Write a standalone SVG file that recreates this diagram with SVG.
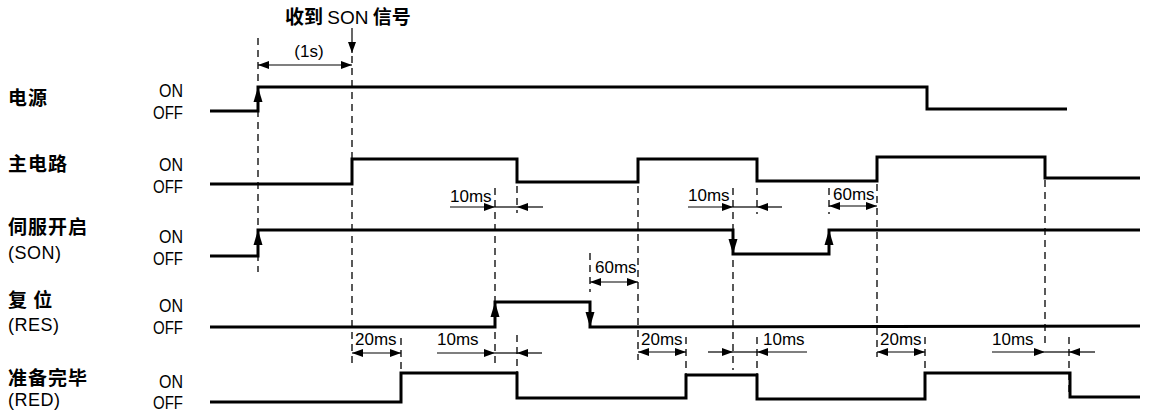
<svg xmlns="http://www.w3.org/2000/svg" width="1150" height="414" viewBox="0 0 1150 414">
<defs>
<marker id="ah" viewBox="0 0 11 8" refX="11" refY="4" markerWidth="11" markerHeight="8" markerUnits="userSpaceOnUse" orient="auto-start-reverse"><path d="M0,0 L11,4 L0,8 Z" fill="#000"/></marker>
<path id="up" d="M0,0 L-4.5,15 L4.5,15 Z" fill="#000"/>
<path id="dn" d="M0,0 L-4.5,-15 L4.5,-15 Z" fill="#000"/>
</defs>
<style>
.sig{fill:none;stroke:#000;stroke-width:3;stroke-linejoin:miter}
.dash{stroke:#000;stroke-width:1.3;stroke-dasharray:7 5;fill:none}
.dim{stroke:#000;stroke-width:1.2;fill:none}
.lbl{font-family:"Noto Sans CJK SC","Noto Sans",sans-serif;font-size:19px;font-weight:bold;letter-spacing:1px}
.en{font-family:"Liberation Sans",Arial,sans-serif;font-size:18px;letter-spacing:0.5px}
.st{font-family:"Liberation Sans",Arial,sans-serif;font-size:18px;text-anchor:end}
.ms{font-family:"Liberation Sans",Arial,sans-serif;font-size:17px}
.top{font-family:"Noto Sans CJK SC",sans-serif;font-size:19px;font-weight:bold}
</style>
<rect width="1150" height="414" fill="#fff"/>

<g id="title">
<text x="285" y="24" class="top">收到 <tspan font-family="Liberation Sans, sans-serif" font-weight="normal">SON</tspan> 信号</text>
<line x1="352" y1="28" x2="352" y2="53" class="dim" marker-end="url(#ah)"/>
</g>

<g id="row-power">
<text x="8" y="105" class="lbl">电源</text>
<text x="183" y="97" class="st" textLength="24" lengthAdjust="spacingAndGlyphs">ON</text>
<text x="183" y="119" class="st" textLength="30" lengthAdjust="spacingAndGlyphs">OFF</text>
<polyline class="sig" points="210,111 258,111 258,87 927,87 927,109 1067,109"/>
<use href="#up" x="258" y="87"/>
</g>

<g id="row-main">
<text x="8" y="171" class="lbl">主电路</text>
<text x="183" y="171" class="st" textLength="24" lengthAdjust="spacingAndGlyphs">ON</text>
<text x="183" y="193" class="st" textLength="30" lengthAdjust="spacingAndGlyphs">OFF</text>
<polyline class="sig" points="210,184 352,184 352,159 517,159 517,182 638,182 638,159 757,159 757,181 877,181 877,157 1045,157 1045,178 1140,178"/>
</g>

<g id="row-son">
<text x="8" y="234" class="lbl">伺服开启</text>
<text x="8" y="259" class="en">(SON)</text>
<text x="183" y="243" class="st" textLength="24" lengthAdjust="spacingAndGlyphs">ON</text>
<text x="183" y="265" class="st" textLength="30" lengthAdjust="spacingAndGlyphs">OFF</text>
<polyline class="sig" points="210,256 258,256 258,230 733,230 733,254 829,254 829,230 1140,230"/>
<use href="#up" x="258" y="230"/>
<use href="#dn" x="733" y="254"/>
<use href="#up" x="829" y="230"/>
</g>

<g id="row-res">
<text x="8" y="307" class="lbl" xml:space="preserve">复 位</text>
<text x="8" y="331" class="en">(RES)</text>
<text x="183" y="312" class="st" textLength="24" lengthAdjust="spacingAndGlyphs">ON</text>
<text x="183" y="334" class="st" textLength="30" lengthAdjust="spacingAndGlyphs">OFF</text>
<polyline class="sig" points="210,327 495,327 495,302 590,302 590,327 1140,326"/>
<use href="#up" x="495" y="302"/>
<use href="#dn" x="590" y="327"/>
</g>

<g id="row-red">
<text x="8" y="385" class="lbl">准备完毕</text>
<text x="8" y="406" class="en">(RED)</text>
<text x="183" y="388" class="st" textLength="24" lengthAdjust="spacingAndGlyphs">ON</text>
<text x="183" y="409" class="st" textLength="30" lengthAdjust="spacingAndGlyphs">OFF</text>
<polyline class="sig" points="210,402 401,402 401,373 517,373 517,398 686,398 686,375 757,375 757,399 925,399 925,373 1070,373 1070,397 1140,397"/>
</g>

<g id="connectors">
<line class="dash" x1="258" y1="38" x2="258" y2="272"/>
<line class="dash" x1="352" y1="56" x2="352" y2="363"/>
<line class="dash" x1="401" y1="338" x2="401" y2="373"/>
<line class="dash" x1="495" y1="188" x2="495" y2="363"/>
<line class="dash" x1="517" y1="186" x2="517" y2="213"/>
<line class="dash" x1="517" y1="335" x2="517" y2="397"/>
<line class="dash" x1="590" y1="253" x2="590" y2="292"/>
<line class="dash" x1="638" y1="186" x2="638" y2="360"/>
<line class="dash" x1="686" y1="337" x2="686" y2="375"/>
<line class="dash" x1="733" y1="188" x2="733" y2="370"/>
<line class="dash" x1="757" y1="188" x2="757" y2="214"/>
<line class="dash" x1="757" y1="337" x2="757" y2="397"/>
<line class="dash" x1="829" y1="188" x2="829" y2="214"/>
<line class="dash" x1="877" y1="184" x2="877" y2="357"/>
<line class="dash" x1="925" y1="337" x2="925" y2="373"/>
<line class="dash" x1="1045" y1="180" x2="1045" y2="343"/>
<line class="dash" x1="1069" y1="337" x2="1069" y2="397"/>

<line class="dim" x1="258" y1="65" x2="352" y2="65" marker-start="url(#ah)" marker-end="url(#ah)"/>
<text x="309" y="57" class="ms" text-anchor="middle" font-size="18">(1s)</text>

<line class="dim" x1="450" y1="207" x2="495" y2="207" marker-end="url(#ah)"/>
<line class="dim" x1="495" y1="207" x2="517" y2="207"/>
<line class="dim" x1="543" y1="207" x2="517" y2="207" marker-end="url(#ah)"/>
<text x="450" y="202" class="ms">10ms</text>

<line class="dim" x1="688" y1="207" x2="733" y2="207" marker-end="url(#ah)"/>
<line class="dim" x1="733" y1="207" x2="757" y2="207"/>
<line class="dim" x1="782" y1="207" x2="757" y2="207" marker-end="url(#ah)"/>
<text x="688" y="201" class="ms">10ms</text>

<line class="dim" x1="829" y1="206" x2="877" y2="206" marker-start="url(#ah)" marker-end="url(#ah)"/>
<text x="833" y="200" class="ms">60ms</text>

<line class="dim" x1="590" y1="282" x2="638" y2="282" marker-start="url(#ah)" marker-end="url(#ah)"/>
<text x="595" y="273" class="ms">60ms</text>

<line class="dim" x1="352" y1="353" x2="401" y2="353" marker-start="url(#ah)" marker-end="url(#ah)"/>
<text x="355" y="345" class="ms">20ms</text>

<line class="dim" x1="437" y1="353" x2="495" y2="353" marker-end="url(#ah)"/>
<line class="dim" x1="495" y1="353" x2="517" y2="353"/>
<line class="dim" x1="542" y1="353" x2="517" y2="353" marker-end="url(#ah)"/>
<text x="437" y="345" class="ms">10ms</text>

<line class="dim" x1="638" y1="352" x2="686" y2="352" marker-start="url(#ah)" marker-end="url(#ah)"/>
<text x="641" y="345" class="ms">20ms</text>

<line class="dim" x1="708" y1="352" x2="733" y2="352" marker-end="url(#ah)"/>
<line class="dim" x1="733" y1="352" x2="757" y2="352"/>
<line class="dim" x1="807" y1="352" x2="757" y2="352" marker-end="url(#ah)"/>
<text x="763" y="345" class="ms">10ms</text>

<line class="dim" x1="877" y1="352" x2="925" y2="352" marker-start="url(#ah)" marker-end="url(#ah)"/>
<text x="880" y="345" class="ms">20ms</text>

<line class="dim" x1="992" y1="352" x2="1045" y2="352" marker-end="url(#ah)"/>
<line class="dim" x1="1045" y1="352" x2="1069" y2="352"/>
<line class="dim" x1="1095" y1="352" x2="1069" y2="352" marker-end="url(#ah)"/>
<text x="992" y="345" class="ms">10ms</text>
</g>
</svg>
